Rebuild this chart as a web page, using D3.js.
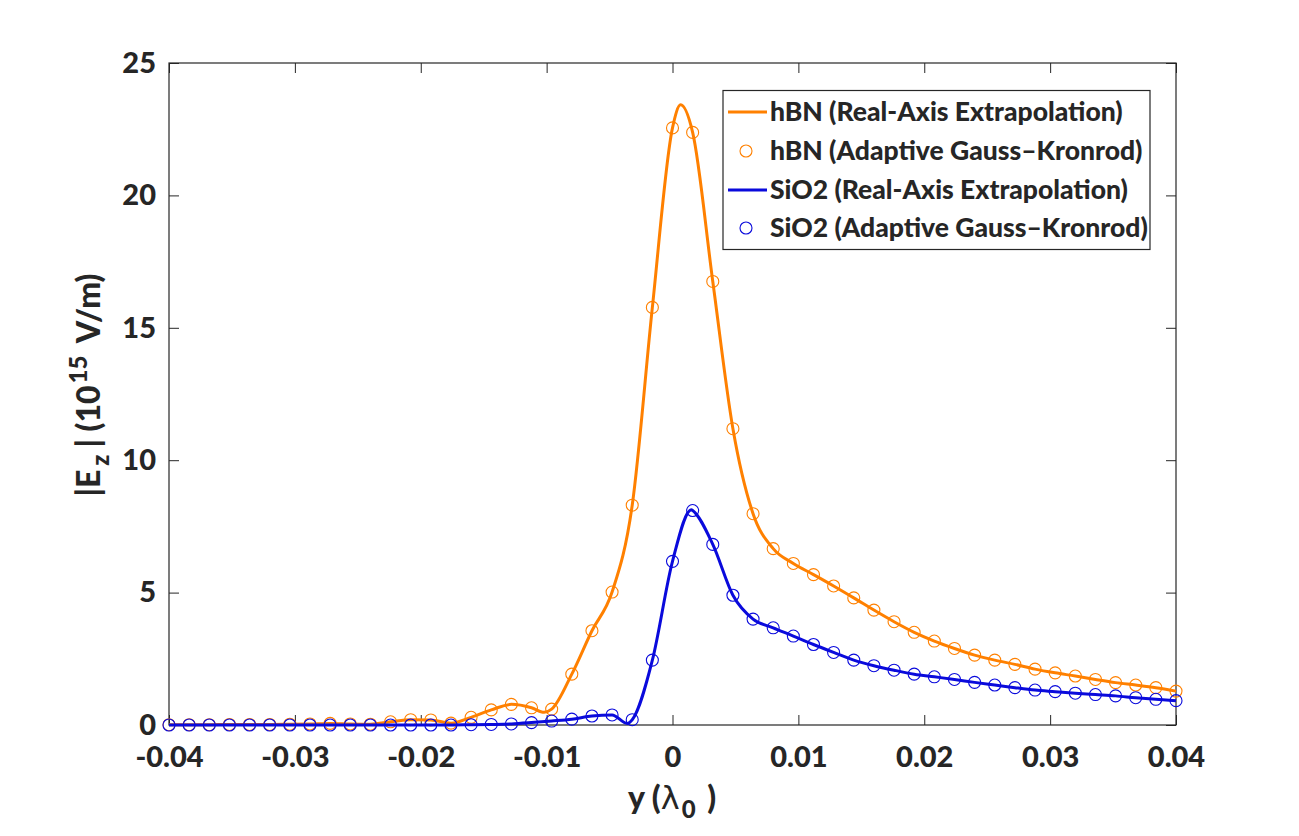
<!DOCTYPE html>
<html>
<head>
<meta charset="utf-8">
<script src="https://cdn.jsdelivr.net/npm/d3@7"></script>
<style>
  html, body { margin: 0; padding: 0; background: #fff; }
  svg { display: block; }
  text { font-family: Lato, "Open Sans", sans-serif; font-weight: 900; fill: #262626; }
</style>
</head>
<body>
<svg id="chart" width="1299" height="836"></svg>
<script>
// ---- data ----
const xTicks = [-0.04, -0.03, -0.02, -0.01, 0, 0.01, 0.02, 0.03, 0.04];
const yTicks = [0, 5, 10, 15, 20, 25];

const sampleX = [
  -0.04, -0.0384, -0.0368, -0.0352, -0.0336, -0.032, -0.0304, -0.0288, -0.0272, -0.0256,
  -0.024, -0.0224, -0.0208, -0.0192, -0.0176, -0.016, -0.0144, -0.0128, -0.0112, -0.0096,
  -0.008, -0.0064, -0.0048, -0.0032, -0.0016, 0, 0.0016, 0.0032, 0.0048, 0.0064,
  0.008, 0.0096, 0.0112, 0.0128, 0.0144, 0.016, 0.0176, 0.0192, 0.0208, 0.0224,
  0.024, 0.0256, 0.0272, 0.0288, 0.0304, 0.032, 0.0336, 0.0352, 0.0368, 0.0384, 0.04
];

const hbnGK = [
  0.01, 0.01, 0.01, 0.02, 0.02, 0.02, 0.03, 0.04, 0.06, 0.04,
  0.03, 0.12, 0.20, 0.19, 0.07, 0.29, 0.57, 0.78, 0.65, 0.60,
  1.92, 3.56, 5.02, 8.30, 15.77, 22.55, 22.38, 16.75, 11.19, 7.98,
  6.66, 6.10, 5.68, 5.25, 4.80, 4.34, 3.90, 3.50, 3.17, 2.89,
  2.64, 2.45, 2.29, 2.11, 1.97, 1.85, 1.72, 1.60, 1.51, 1.41, 1.28
];

const sio2GK = [
  0.0, 0.0, 0.0, 0.0, 0.0, 0.0, 0.0, 0.0, 0.0, 0.0,
  0.0, 0.0, 0.0, 0.0, 0.0, 0.01, 0.02, 0.04, 0.09, 0.15,
  0.22, 0.34, 0.38, 0.20, 2.45, 6.18, 8.10, 6.82, 4.90, 4.00,
  3.67, 3.36, 3.04, 2.74, 2.45, 2.24, 2.07, 1.92, 1.82, 1.72,
  1.61, 1.51, 1.41, 1.32, 1.26, 1.20, 1.15, 1.10, 1.03, 0.97, 0.92
];

// extra points read from the continuous (real-axis) curves
const hbnExtraX = [-0.0102, 0.00065];
const hbnExtraY = [0.48, 23.42];
const sio2ExtraX = [-0.0036, 0.0015];
const sio2ExtraY = [0.06, 8.13];

const seriesNames = [
  "hBN (Real-Axis Extrapolation)",
  "hBN (Adaptive Gauss\u2013Kronrod)",
  "SiO2 (Real-Axis Extrapolation)",
  "SiO2 (Adaptive Gauss\u2013Kronrod)"
];
const ORANGE = "#ff8000";
const BLUE = "#0a0adc";

// ---- layout ----
const svg = d3.select("#chart");
const L = 169, R = 1176, T = 63, B = 725;
const x = d3.scaleLinear().domain([-0.04, 0.04]).range([L, R]);
const y = d3.scaleLinear().domain([0, 25]).range([B, T]);

function merge(xs, ys, ex, ey) {
  const pts = xs.map((v, i) => [v, ys[i]]);
  ex.forEach((v, i) => pts.push([v, ey[i]]));
  pts.sort((a, b) => a[0] - b[0]);
  return pts;
}
const hbnLine = merge(sampleX, hbnGK, hbnExtraX, hbnExtraY);
const sio2Line = merge(sampleX, sio2GK, sio2ExtraX, sio2ExtraY);

const fs = 29;
const lfs = 32;
const tickLen = 10;
const axisColor = "#262626";

// axes
const xAxisB = d3.axisBottom(x).tickValues(xTicks).tickSizeInner(-tickLen).tickSizeOuter(0)
  .tickPadding(21).tickFormat(d => d === 0 ? "0" : d.toFixed(2));
const xAxisT = d3.axisTop(x).tickValues(xTicks).tickSizeInner(-tickLen).tickSizeOuter(0).tickFormat("");
const yAxisL = d3.axisLeft(y).tickValues(yTicks).tickSizeInner(-tickLen).tickSizeOuter(0)
  .tickPadding(13).tickFormat(d3.format("d"));
const yAxisR = d3.axisRight(y).tickValues(yTicks).tickSizeInner(-tickLen).tickSizeOuter(0).tickFormat("");

function style(g) {
  g.select(".domain").remove();
  g.selectAll("line").attr("stroke", axisColor).attr("stroke-width", 1);
  g.selectAll("text").attr("font-size", fs).attr("fill", axisColor)
    .style("font-family", "Lato, sans-serif").style("font-weight", 900);
}
svg.append("g").attr("transform", `translate(0,${B})`).call(xAxisB).call(style);
svg.append("g").attr("transform", `translate(0,${T})`).call(xAxisT).call(style);
svg.append("g").attr("transform", `translate(${L},0)`).call(yAxisL).call(style);
svg.append("g").attr("transform", `translate(${R},0)`).call(yAxisR).call(style);

svg.append("rect").attr("x", L).attr("y", T).attr("width", R - L).attr("height", B - T)
  .attr("fill", "none").attr("stroke", axisColor).attr("stroke-width", 1.2);

// lines & markers
const line = d3.line().x(d => x(d[0])).y(d => y(d[1])).curve(d3.curveMonotoneX);

function drawSeries(linePts, gk, color) {
  svg.append("path").datum(linePts).attr("d", line)
    .attr("fill", "none").attr("stroke", color).attr("stroke-width", 3)
    .attr("stroke-linejoin", "round");
  svg.append("g").selectAll("circle").data(gk).join("circle")
    .attr("cx", (d, i) => x(sampleX[i])).attr("cy", d => y(d)).attr("r", 6)
    .attr("fill", "none").attr("stroke", color).attr("stroke-width", 1.1);
}
drawSeries(hbnLine, hbnGK, ORANGE);
drawSeries(sio2Line, sio2GK, BLUE);

// axis labels
const xl = svg.append("text").attr("x", 672).attr("y", 809).attr("text-anchor", "middle").attr("font-size", lfs);
xl.append("tspan").text("y (");
xl.append("tspan").text("\u03bb").style("font-family", "'DejaVu Sans', sans-serif").style("font-weight", 400);
xl.append("tspan").text("0").attr("font-size", lfs * 0.75).attr("dy", 9).attr("dx", 2);
xl.append("tspan").text(" )").attr("dy", -9).attr("dx", 4);

const yl = svg.append("text").attr("transform", "translate(100,385) rotate(-90)")
  .attr("text-anchor", "middle").attr("font-size", lfs);
yl.append("tspan").text("|E");
yl.append("tspan").text("z").attr("font-size", lfs * 0.75).attr("dy", 9).attr("dx", 4);
yl.append("tspan").text("| (10").attr("dy", -9).attr("dx", 7);
yl.append("tspan").text("15").attr("font-size", lfs * 0.75).attr("dy", -13).attr("dx", 2);
yl.append("tspan").text(" V/m)").attr("dy", 13).attr("dx", 6);

// legend
const lg = svg.append("g");
lg.append("rect").attr("x", 723).attr("y", 90.5).attr("width", 427).attr("height", 159)
  .attr("fill", "#fff").attr("stroke", axisColor).attr("stroke-width", 1.2);
const rows = [112, 151, 190, 228];
const legendColors = [ORANGE, ORANGE, BLUE, BLUE];
seriesNames.forEach((name, i) => {
  const cy = rows[i];
  if (i % 2 === 0) {
    lg.append("line").attr("x1", 728).attr("x2", 767).attr("y1", cy).attr("y2", cy)
      .attr("stroke", legendColors[i]).attr("stroke-width", 3);
  } else {
    lg.append("circle").attr("cx", 746).attr("cy", cy).attr("r", 6)
      .attr("fill", "none").attr("stroke", legendColors[i]).attr("stroke-width", 1.1);
  }
  lg.append("text").attr("x", 770).attr("y", cy).attr("dy", "0.35em")
    .attr("font-size", 26.5).text(name);
});
</script>
</body>
</html>
